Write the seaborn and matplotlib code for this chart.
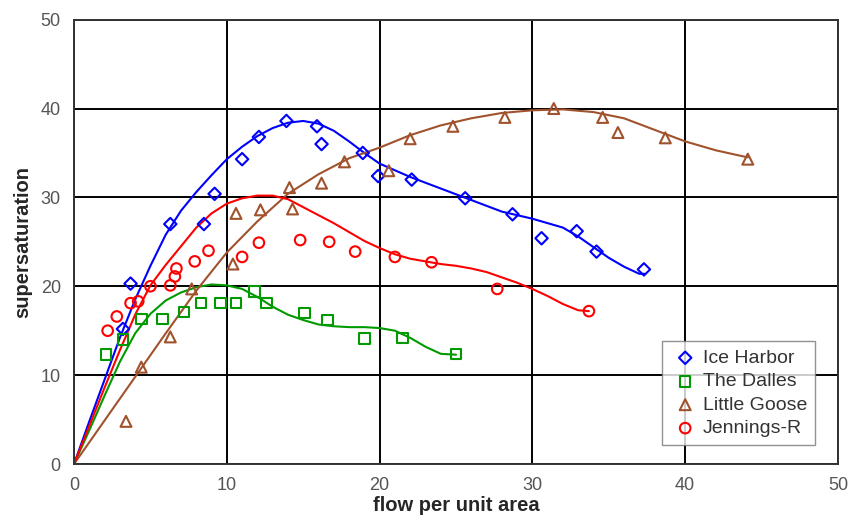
import numpy as np
import pandas as pd
import matplotlib
matplotlib.use("Agg")
import matplotlib.pyplot as plt
import seaborn as sns

ice_x = [3.2, 3.7, 6.3, 8.5, 9.2, 11.0, 12.1, 13.9, 15.9, 16.2, 18.9, 19.9, 22.1, 25.6, 28.7, 30.6, 32.9, 34.2, 37.3]
ice_y = [15.2, 20.3, 27.0, 27.0, 30.4, 34.3, 36.8, 38.6, 38.0, 36.0, 35.0, 32.4, 32.0, 29.9, 28.1, 25.4, 26.2, 23.9, 21.9]

dalles_x = [2.1, 3.2, 4.4, 5.8, 7.2, 8.3, 9.6, 10.6, 11.8, 12.6, 15.1, 16.6, 19.0, 21.5, 25.0]
dalles_y = [12.3, 14.0, 16.3, 16.3, 17.1, 18.1, 18.1, 18.1, 19.4, 18.1, 17.0, 16.2, 14.1, 14.2, 12.4]

goose_x = [3.4, 4.4, 6.3, 7.7, 10.4, 10.6, 12.2, 14.3, 14.1, 16.2, 17.7, 20.6, 22.0, 24.8, 28.2, 31.4, 34.6, 35.6, 38.7, 44.1]
goose_y = [4.8, 10.9, 14.3, 19.7, 22.5, 28.2, 28.6, 28.7, 31.1, 31.6, 34.0, 33.0, 36.6, 38.0, 39.0, 40.0, 39.0, 37.3, 36.7, 34.3]

jen_x = [2.2, 2.8, 3.7, 4.2, 5.0, 6.3, 6.6, 6.7, 7.9, 8.8, 11.0, 12.1, 14.8, 16.7, 18.4, 21.0, 23.4, 27.7, 33.7]
jen_y = [15.0, 16.6, 18.1, 18.3, 20.0, 20.1, 21.1, 22.0, 22.8, 24.0, 23.3, 24.9, 25.2, 25.0, 23.9, 23.3, 22.7, 19.7, 17.2]

# model curves, also
ice_cx = [0, 1, 2, 3, 4, 5, 6, 7, 8, 9, 10, 11, 12, 13, 14, 15, 16, 17, 18, 19, 20, 22, 24, 26, 28, 30, 32, 33, 34, 35, 36, 37, 37.4]
ice_cy = [0, 4.8, 9.5, 14.2, 18.5, 22.3, 25.8, 28.5, 30.6, 32.5, 34.3, 35.7, 36.9, 37.8, 38.4, 38.6, 38.3, 37.5, 36.3, 35.0, 33.8, 32.3, 31.0, 29.7, 28.4, 27.6, 26.6, 25.6, 24.4, 23.2, 22.2, 21.4, 21.4]

dalles_cx = [0, 1, 2, 3, 4, 5, 6, 7, 8, 9, 10, 11, 12, 13, 14, 15, 16, 17, 18, 19, 20, 21, 22, 23, 24, 25]
dalles_cy = [0, 3.8, 7.7, 11.5, 14.7, 16.9, 18.4, 19.3, 19.9, 20.2, 20.1, 19.7, 18.8, 17.7, 16.8, 16.2, 15.7, 15.5, 15.4, 15.4, 15.3, 15.0, 14.2, 13.2, 12.4, 12.3]

goose_cx = [0, 2, 4, 6, 8, 10, 12, 14, 16, 18, 20, 22, 24, 26, 28, 30, 32, 34, 36, 38, 40, 42, 44.1]
goose_cy = [0, 4.9, 9.8, 14.7, 19.5, 23.8, 27.3, 30.4, 32.6, 34.4, 35.6, 37.0, 38.1, 38.9, 39.5, 39.8, 39.9, 39.6, 38.9, 37.6, 36.3, 35.3, 34.5]

jen_cx = [0, 1, 2, 3, 4, 5, 6, 7, 8, 9, 10, 11, 12, 13, 14, 15, 16, 17, 18, 19, 20, 21, 22, 23, 24, 25, 26, 27, 28, 29, 30, 31, 32, 33, 33.7]
jen_cy = [0, 4.3, 8.6, 12.8, 16.8, 20.1, 22.4, 24.5, 26.6, 28.2, 29.3, 29.9, 30.2, 30.2, 29.8, 28.9, 28.0, 27.1, 26.1, 25.1, 24.3, 23.6, 23.1, 22.8, 22.5, 22.3, 22.0, 21.6, 21.0, 20.4, 19.7, 18.9, 18.0, 17.3, 17.2]

names = ["Ice Harbor", "The Dalles", "Little Goose", "Jennings-R"]
colors = ["#0000ff", "#009a00", "#a0522d", "#ff0000"]
markers = ["D", "s", "^", "o"]
sizes = [40, 58, 62, 58]
points = [(ice_x, ice_y), (dalles_x, dalles_y), (goose_x, goose_y), (jen_x, jen_y)]
curves = [(ice_cx, ice_cy), (dalles_cx, dalles_cy), (goose_cx, goose_cy), (jen_cx, jen_cy)]

sns.set_style("white")
plt.rcParams["font.family"] = ["Liberation Sans", "DejaVu Sans"]

fig = plt.figure(figsize=(8.54, 5.24), dpi=100)
ax = fig.add_axes([0.0867, 0.1145, 0.8945, 0.848])

for name, (x, y), (cx, cy), c, m, s in zip(names, points, curves, colors, markers, sizes):
    sns.lineplot(x=cx, y=cy, color=c, linewidth=1.5, ax=ax, legend=False)
    sns.scatterplot(x=x, y=y, marker=m, s=s, facecolors="none", edgecolors=c,
                    linewidths=1.5, ax=ax, label=name, zorder=3)

ax.set_xlim(0, 50)
ax.set_ylim(0, 50)
ax.set_xticks(range(0, 51, 10))
ax.set_yticks(range(0, 51, 10))
ax.grid(True, color="black", linewidth=1.4)
ax.set_axisbelow(True)
for sp in ax.spines.values():
    sp.set_color("#333333")
    sp.set_linewidth(1.4)
ax.tick_params(axis="both", direction="out", length=4.5, width=1, colors="#333333",
               labelcolor="#555555", labelsize=13, pad=5)
ax.set_xlabel("flow per unit area", fontsize=14.5, fontweight="bold", labelpad=1)
ax.set_ylabel("supersaturation", fontsize=14.5, fontweight="bold", labelpad=6)

leg = ax.legend(loc="lower right", bbox_to_anchor=(0.983, 0.02), frameon=True,
                fancybox=False, edgecolor="#777777", fontsize=14,
                handletextpad=0.15, borderpad=0.42, labelspacing=0.3,
                handlelength=1.5)
leg.get_frame().set_linewidth(1.0)
for t in leg.get_texts():
    t.set_color("#333333")

fig.savefig("out.png", dpi=100)
